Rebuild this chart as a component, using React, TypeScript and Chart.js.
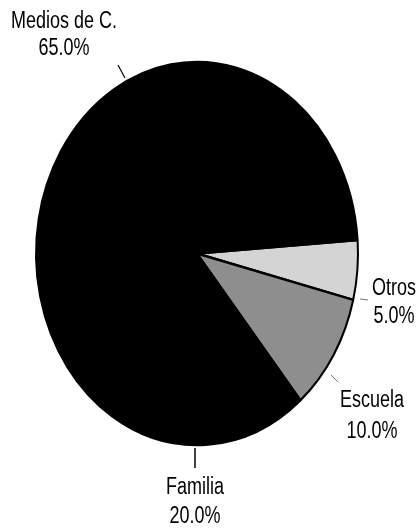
import React, { useEffect, useRef } from "react";
import { Chart, registerables } from "chart.js";

Chart.register(...registerables);

const categories = ["Otros", "Escuela", "Familia", "Medios de C."];
const values = [5, 10, 20, 65];
const percentLabels = ["5.0%", "10.0%", "20.0%", "65.0%"];
const sliceColors = ["#d4d4d4", "#8e8e8e", "#000000", "#000000"];

const Y_STRETCH = 1.19;
const TEXT_STRETCH = 1.28;

// label layout (annotation placement only)
const labelLayout = [
  { x: 394, b1: 295, b2: 323, tick: [360, 299, 368, 300], tickColor: "#777", tickW: 1 },
  { x: 372, b1: 407, b2: 438, tick: [331, 375, 338, 382], tickColor: "#777", tickW: 1 },
  { x: 195, b1: 494, b2: 523, tick: [195, 448, 195, 468], tickColor: "#000", tickW: 1.5 },
  { x: 64, b1: 28, b2: 55, tick: [118, 65, 125, 78], tickColor: "#000", tickW: 1.2 },
];

const ellipsePlugin = {
  id: "ellipse",
  beforeDatasetsDraw(chart: any) {
    const arc = chart.getDatasetMeta(0).data[0];
    const ctx = chart.ctx;
    ctx.save();
    ctx.translate(arc.x, arc.y);
    ctx.scale(1, Y_STRETCH);
    ctx.translate(-arc.x, -arc.y);
  },
  afterDatasetsDraw(chart: any) {
    chart.ctx.restore();
  },
};

const labelPlugin = {
  id: "pieLabels",
  afterDraw(chart: any) {
    const ctx = chart.ctx;
    const labels = chart.data.labels as string[];
    labels.forEach((name, i) => {
      const L = labelLayout[i];
      ctx.save();
      ctx.strokeStyle = L.tickColor;
      ctx.lineWidth = L.tickW;
      ctx.beginPath();
      ctx.moveTo(L.tick[0], L.tick[1]);
      ctx.lineTo(L.tick[2], L.tick[3]);
      ctx.stroke();
      ctx.fillStyle = "#000";
      ctx.font = "18px 'Liberation Sans', Arial, sans-serif";
      ctx.textAlign = "center";
      ctx.textBaseline = "alphabetic";
      [[name, L.b1], [percentLabels[i], L.b2]].forEach(([t, b]: any) => {
        ctx.save();
        ctx.translate(L.x, b);
        ctx.scale(1, TEXT_STRETCH);
        ctx.fillText(t, 0, 0);
        ctx.restore();
      });
      ctx.restore();
    });
  },
};

export default function App() {
  const ref = useRef<HTMLCanvasElement>(null);
  useEffect(() => {
    if (!ref.current) return;
    const chart = new Chart(ref.current, {
      type: "pie",
      data: {
        labels: categories,
        datasets: [
          {
            data: values,
            backgroundColor: sliceColors,
            borderColor: "#000",
            borderWidth: 2,
          },
        ],
      },
      options: {
        responsive: false,
        animation: false,
        rotation: 86,
        radius: 161,
        layout: { padding: { left: 0, right: 26, top: 0, bottom: 22 } },
        plugins: {
          legend: { display: false },
          tooltip: { enabled: false },
        },
      } as any,
      plugins: [ellipsePlugin, labelPlugin],
    });
    return () => chart.destroy();
  }, []);
  return (
    <div style={{ position: "absolute", left: 0, top: 0, width: 420, height: 529, background: "#fff" }}>
      <canvas ref={ref} width={420} height={529} />
    </div>
  );
}
